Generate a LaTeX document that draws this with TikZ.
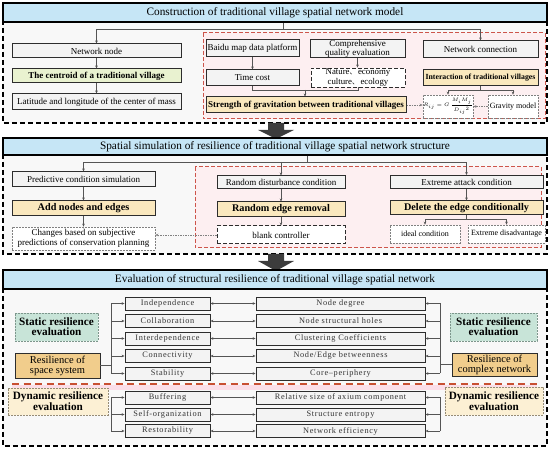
\documentclass[tikz,border=0pt]{standalone}
\usepackage{amsmath}
\usepackage{fontspec}
\setmainfont{Liberation Serif}
\newfontfamily\cjk{Noto Sans CJK SC}
\newfontfamily\spaced[LetterSpace=8]{Liberation Serif}
\usepackage{tikz}
\usetikzlibrary{arrows.meta, calc}
\definecolor{titleblue}{RGB}{198,230,246}
\definecolor{panelgray}{RGB}{248,248,248}
\definecolor{boxgray}{RGB}{243,243,243}
\definecolor{boxline}{RGB}{45,45,45}
\definecolor{linegray}{RGB}{85,85,85}
\definecolor{dashred}{RGB}{205,85,75}
\definecolor{pinkbg}{RGB}{253,239,241}
\definecolor{hdrorange}{RGB}{250,232,190}
\definecolor{hdrgreen}{RGB}{233,242,208}
\definecolor{staticteal}{RGB}{200,228,216}
\definecolor{staticline}{RGB}{125,150,140}
\definecolor{spaceorange}{RGB}{241,205,140}
\definecolor{dynyellow}{RGB}{252,240,212}
\definecolor{dynline}{RGB}{150,140,118}
\definecolor{sepred}{RGB}{200,80,50}
\definecolor{pinkband}{RGB}{251,222,232}
\definecolor{arrowdark}{RGB}{60,60,60}
\tikzset{
  titlebar/.style={rectangle, draw=black, fill=titleblue, line width=1.1pt,
    minimum width=544pt, minimum height=19pt, inner sep=0pt,
    font=\fontsize{11.3}{13}\selectfont},
  panel/.style={draw=black, fill=panelgray, line width=1.1pt,
    dash pattern=on 5pt off 3pt},
  redframe/.style={draw=dashred, fill=pinkbg, line width=1pt,
    dash pattern=on 4pt off 2pt},
  box/.style={rectangle, draw=boxline, fill=boxgray, line width=1pt,
    inner sep=0pt, align=center, font=\fontsize{9}{9}\selectfont},
  keybox/.style={box, fill=hdrorange, font=\fontsize{9}{10}\selectfont\bfseries},
  bigkey/.style={box, fill=hdrorange, font=\fontsize{10.2}{11}\selectfont\bfseries},
  notebox/.style={rectangle, draw=gray, fill=white, line width=0.6pt,
    dash pattern=on 2pt off 1pt, inner sep=0pt, align=center,
    font=\fontsize{8}{9}\selectfont},
  ctrlbox/.style={rectangle, draw=boxline, fill=white, line width=1pt,
    dash pattern=on 4pt off 2pt, inner sep=0pt, align=center,
    font=\fontsize{9}{9}\selectfont},
  evalbox/.style={rectangle, draw=boxline, fill=boxgray, line width=0.9pt,
    minimum height=13pt, inner sep=0pt, text=black!80,
    font=\spaced\fontsize{8.3}{9}\selectfont},
  tagbox/.style={rectangle, inner sep=0pt, align=center, line width=0.8pt,
    font=\fontsize{11.2}{10}\selectfont\bfseries},
  arrow/.style={-{Stealth[length=3pt,width=2.6pt]}, line width=0.5pt, color=linegray},
  dblarrow/.style={{Stealth[length=3pt,width=2.6pt]}-{Stealth[length=3pt,width=2.6pt]},
    line width=0.5pt, color=linegray},
  dasharrow/.style={arrow, color=gray, dash pattern=on 1.5pt off 1pt},
  line/.style={line width=0.5pt, color=linegray},
  sepline/.style={draw=sepred, line width=1.5pt, dash pattern=on 7pt off 4.5pt}
}
\begin{document}
\begin{tikzpicture}[x=1pt, y=-1pt]
  \useasboundingbox (0,0) rectangle (550,449);

  % Construction
  \draw[panel] (3,12) rectangle (547,123);
  \node[titlebar] (t1) at (275,12.5) {Construction of traditional village spatial network model};
  \draw[redframe] (203,33) rectangle (545,119);

  \node[box, minimum width=169pt, minimum height=14pt] (nn) at (96.5,51) {Network node};
  \node[box, fill=hdrgreen, font=\fontsize{9}{10}\selectfont\bfseries, minimum width=169pt, minimum height=14pt] (cen) at (96.5,76) {The centroid of a traditional village};
  \node[box, minimum width=169pt, minimum height=16pt] (lat) at (96.5,102) {Latitude and longitude of the center of mass};

  \node[box, minimum width=93pt, minimum height=17pt] (baidu) at (252.5,48.5) {Baidu map data platform};
  \node[box, minimum width=93pt, minimum height=16pt] (tcost) at (252.5,78) {Time cost};
  \node[box, font=\fontsize{9}{8}\selectfont, minimum width=95pt, minimum height=17pt] (comp) at (357.5,48.5) {Comprehensive\\quality evaluation};
  \node[ctrlbox, line width=0.9pt, font=\fontsize{8.8}{9.5}\selectfont, minimum width=94pt, minimum height=19pt] (natr) at (358,77.5) {Nature{\cjk\fontsize{7}{7}\selectfont 、}\,economy\\culture{\cjk\fontsize{7}{7}\selectfont 、}\,ecology};
  \node[keybox, minimum width=200pt, minimum height=16pt] (grav) at (306,105) {Strength of gravitation between traditional villages};

  \node[box, minimum width=115pt, minimum height=17pt] (ncon) at (480.5,49.5) {Network connection};
  \node[keybox, font=\fontsize{7.8}{9}\selectfont\bfseries, minimum width=115pt, minimum height=16pt] (inter) at (480.5,78) {Interaction of traditional villages};
  \node[notebox, font=\fontsize{5.5}{6.5}\selectfont, minimum width=50pt, minimum height=23pt] (formula) at (448,106.5) {$R_{ij}=G\,\dfrac{M_iM_j}{{D_{ij}}^{2}}$};
  \node[notebox, minimum width=50pt, minimum height=23pt] (gmodel) at (513,106.5) {Gravity model};

  \coordinate (s1) at (283,29);
  \draw[line] (t1.south -| s1) -- (s1);
  \draw[arrow] (s1) -| (nn.north);
  \draw[arrow] (s1) -| (ncon.north);
  \draw[arrow] (nn) -- (cen);
  \draw[arrow] (cen) -- (lat);
  \draw[arrow] (baidu) -- (tcost);
  \draw[arrow] (comp.south) -- (comp.south |- natr.north);
  \coordinate (m1) at (305,90);
  \draw[line] (tcost.south) |- (m1);
  \draw[line] (natr.south) |- (m1);
  \draw[arrow] (m1) -- (m1 |- grav.north);
  \coordinate (m2) at (480.5,90);
  \draw[line] (inter) -- (m2);
  \draw[arrow] (m2) -| (formula.north);
  \draw[arrow] (m2) -| (gmodel.north);
  \draw[dasharrow] (grav.east) -- (grav.east -| formula.west);
  \draw[dasharrow] (gmodel) -- (formula);

  \fill[arrowdark] (268,123) -- (284,123) -- (284,130) -- (294,130) -- (276,139) -- (258,130) -- (268,130) -- cycle;

  % Spatial simulation
  \draw[panel] (3,146) rectangle (547,254);
  \node[titlebar, minimum height=17pt] (t2) at (275,146.5) {Spatial simulation of resilience of traditional village spatial network structure};
  \draw[redframe] (195,167) rectangle (541,248);

  \node[box, minimum width=143pt, minimum height=15pt] (pred) at (83.5,179.5) {Predictive condition simulation};
  \node[bigkey, minimum width=143pt, minimum height=15pt] (addn) at (83.5,208.5) {Add nodes and edges};
  \node[notebox, font=\fontsize{9}{10}\selectfont, minimum width=143pt, minimum height=23pt] (chg) at (83.5,238.5) {Changes based on subjective\\predictions of conservation planning};

  \node[box, minimum width=128pt, minimum height=13pt] (rdc) at (281,182.5) {Random disturbance condition};
  \node[bigkey, minimum width=128pt, minimum height=15pt] (rer) at (281,209.5) {Random edge removal};
  \node[ctrlbox, minimum width=128pt, minimum height=18pt] (blank) at (281,235) {blank controller};

  \node[box, minimum width=153pt, minimum height=13pt] (ext) at (466.5,182) {Extreme attack condition};
  \node[bigkey, minimum width=153pt, minimum height=14pt] (del) at (466.5,208) {Delete the edge conditionally};
  \node[notebox, minimum width=70pt, minimum height=18pt] (ideal) at (425,234) {ideal condition};
  \node[notebox, minimum width=77pt, minimum height=18pt] (exd) at (506.5,234) {Extreme disadvantage};

  \coordinate (s2) at (307,162);
  \draw[line] (t2.south -| s2) -- (s2);
  \draw[arrow] (s2) -| (pred.north);
  \draw[arrow] (s2) -| (ext.north);
  \draw[arrow] (s2 -| rdc.north) -- (rdc.north);
  \draw[arrow] (pred) -- (addn);
  \draw[arrow] (addn) -- (chg);
  \draw[arrow] (rdc) -- (rer);
  \draw[arrow] (rer) -- (blank);
  \draw[arrow] (ext) -- (del);
  \coordinate (m3) at (466.5,219);
  \draw[line] (del) -- (m3);
  \draw[arrow] (m3) -| (ideal.north);
  \draw[arrow] (m3) -| (exd.north);
  \draw[dasharrow] (blank.west) -- (blank.west -| chg.east);

  \fill[arrowdark] (268,254) -- (284,254) -- (284,261) -- (294,261) -- (276,271) -- (258,261) -- (268,261) -- cycle;

  % Evaluation
  \draw[panel] (3,280) rectangle (547,446);
  \node[titlebar] (t3) at (275,279.5) {Evaluation of structural resilience of traditional village spatial network};

  \fill[pinkband] (12,385.5) rectangle (537,390);
  \draw[sepline] (12,384) -- (537,384);

  \node[tagbox, draw=staticline, fill=staticteal, dash pattern=on 2pt off 1pt, minimum width=83pt, minimum height=28pt] (sl) at (56.5,327) {Static resilience\\evaluation};
  \node[tagbox, draw=boxline, fill=spaceorange, font=\fontsize{10.5}{10}\selectfont, minimum width=85pt, minimum height=25pt] (sps) at (57.5,365.5) {Resilience of\\space system};
  \node[tagbox, draw=dynline, fill=dynyellow, dash pattern=on 2pt off 1pt, minimum width=100pt, minimum height=27pt] (dl) at (58,401.5) {Dynamic resilience\\evaluation};

  \node[tagbox, draw=staticline, fill=staticteal, dash pattern=on 2pt off 1pt, minimum width=87pt, minimum height=28pt] (sr) at (493.5,327) {Static resilience\\evaluation};
  \node[tagbox, draw=boxline, fill=spaceorange, font=\fontsize{10.5}{10}\selectfont, minimum width=85pt, minimum height=23pt] (cpx) at (494.5,364.5) {Resilience of\\complex network};
  \node[tagbox, draw=dynline, fill=dynyellow, dash pattern=on 2pt off 1pt, minimum width=98pt, minimum height=28pt] (dr) at (494,401) {Dynamic resilience\\evaluation};

  \coordinate (lb) at (111,303.5);
  \coordinate (rb) at (440,303.5);
  \foreach \i/\yy/\lt/\rt in {1/303.5/Independence/Node degree,
      2/321/Collaboration/Node structural holes,
      3/338.5/Interdependence/Clustering Coefficients,
      4/356/Connectivity/{Node/Edge betweenness},
      5/373.5/Stability/Core–periphery,
      6/397.5/Buffering/Relative size of axium component,
      7/414.5/Self-organization/Structure entropy,
      8/431/Restorability/Network efficiency} {
    \node[evalbox, minimum width=85pt] (l\i) at (167.5,\yy) {\lt};
    \node[evalbox, minimum width=169pt] (r\i) at (340.5,\yy) {\rt};
    \draw[dblarrow] (l\i) -- (r\i);
    \draw[arrow] (lb |- l\i.west) -- (l\i.west);
    \draw[arrow] (rb |- r\i.east) -- (r\i.east);
  }
  \draw[line] (lb |- l1.west) -- (lb |- l5.west);
  \draw[line] (lb |- l6.west) -- (lb |- l8.west);
  \draw[line] (rb |- r1.east) -- (rb |- r5.east);
  \draw[line] (rb |- r6.east) -- (rb |- r8.east);
  \draw[line] (sps.east) -- (sps.east -| lb);
  \draw[line] (cpx.west) -- (cpx.west -| rb);
\end{tikzpicture}
\end{document}
